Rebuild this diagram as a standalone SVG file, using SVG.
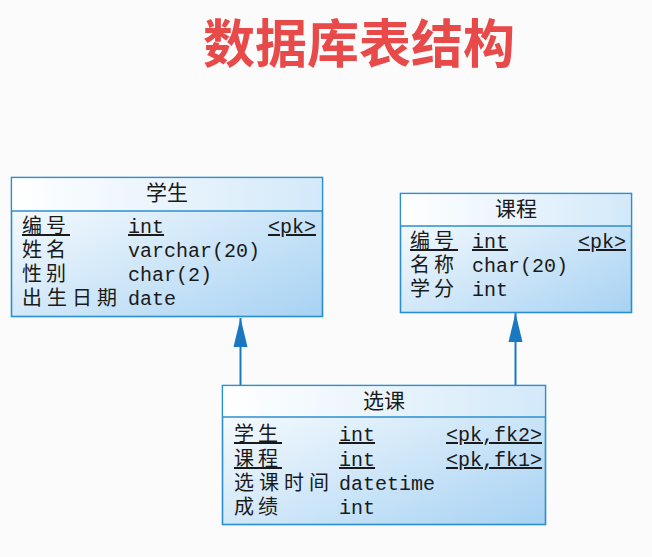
<svg xmlns="http://www.w3.org/2000/svg" width="652" height="557" viewBox="0 0 652 557">
<style>
.box{stroke:#2a8fd0;stroke-width:1.6;fill:url(#body)}
.head{fill:url(#head)}
.div{stroke:#2a8fd0;stroke-width:1.6}
.cn{font-family:"Noto Sans CJK SC","Noto Sans",sans-serif;font-size:20px;fill:#1a1a1a;letter-spacing:4px}
.hd{font-family:"Noto Sans CJK SC","Noto Sans",sans-serif;font-size:21px;fill:#1a1a1a;text-anchor:middle}
.mono{font-family:"Liberation Mono","DejaVu Sans Mono",monospace;font-size:20px;fill:#1a1a1a}
.u{text-decoration:underline}
.title{font-family:"Noto Sans CJK SC",sans-serif;font-size:52px;font-weight:bold;fill:#e84a4a;text-anchor:middle}
.conn{stroke:#1a78c2;stroke-width:2;fill:none}
</style>
<defs>
<linearGradient id="body" x1="0" y1="0" x2="1" y2="1">
<stop offset="0" stop-color="#ffffff"/>
<stop offset="1" stop-color="#a7d2f3"/>
</linearGradient>
<linearGradient id="head" x1="0" y1="0" x2="1" y2="0">
<stop offset="0" stop-color="#ffffff"/>
<stop offset="1" stop-color="#d3e9f9"/>
</linearGradient>
<marker id="arr" markerUnits="userSpaceOnUse" markerWidth="30" markerHeight="16" refX="29" refY="7.5" orient="auto" viewBox="0 0 30 16">
<path d="M0,0.5 L29,7.5 L0,14.5 z" fill="#1a78c2"/>
</marker>
</defs>
<rect width="652" height="557" fill="#fbfbfb"/>
<text class="title" x="359" y="63">数据库表结构</text>

<g id="connectors">
<line class="conn" x1="240.5" y1="385" x2="240.5" y2="318" marker-end="url(#arr)"/>
<line class="conn" x1="515.5" y1="385" x2="515.5" y2="313" marker-end="url(#arr)"/>
</g>

<g id="student">
<rect class="box" x="11.5" y="177.5" width="311" height="139"/>
<rect class="head" x="12.3" y="178.3" width="309.4" height="32.4"/>
<line class="div" x1="11.5" y1="211" x2="322.5" y2="211"/>
<text class="hd" x="167" y="200">学生</text>
<text class="cn u" x="22" y="233">编号</text>
<text class="mono u" x="128" y="233">int</text>
<text class="mono u" x="268" y="233">&lt;pk&gt;</text>
<text class="cn" x="22" y="257">姓名</text>
<text class="mono" x="128" y="257">varchar(20)</text>
<text class="cn" x="22" y="281">性别</text>
<text class="mono" x="128" y="281">char(2)</text>
<text class="cn" x="22" y="305" style="letter-spacing:5px">出生日期</text>
<text class="mono" x="128" y="305">date</text>
</g>

<g id="course">
<rect class="box" x="400.5" y="193.5" width="231" height="119"/>
<rect class="head" x="401.3" y="194.3" width="229.4" height="31.4"/>
<line class="div" x1="400.5" y1="226" x2="631.5" y2="226"/>
<text class="hd" x="516" y="216">课程</text>
<text class="cn u" x="410" y="248">编号</text>
<text class="mono u" x="472" y="248">int</text>
<text class="mono u" x="578" y="248">&lt;pk&gt;</text>
<text class="cn" x="410" y="272">名称</text>
<text class="mono" x="472" y="272">char(20)</text>
<text class="cn" x="410" y="296">学分</text>
<text class="mono" x="472" y="296">int</text>
</g>

<g id="selection">
<rect class="box" x="222.5" y="385.5" width="323" height="139"/>
<rect class="head" x="223.3" y="386.3" width="321.4" height="30.4"/>
<line class="div" x1="222.5" y1="417" x2="545.5" y2="417"/>
<text class="hd" x="384" y="408">选课</text>
<text class="cn u" x="234" y="441">学生</text>
<text class="mono u" x="339" y="441">int</text>
<text class="mono u" x="446" y="441">&lt;pk,fk2&gt;</text>
<text class="cn u" x="234" y="466">课程</text>
<text class="mono u" x="339" y="466">int</text>
<text class="mono u" x="446" y="466">&lt;pk,fk1&gt;</text>
<text class="cn" x="234" y="490" style="letter-spacing:5px">选课时间</text>
<text class="mono" x="339" y="490">datetime</text>
<text class="cn" x="234" y="514">成绩</text>
<text class="mono" x="339" y="514">int</text>
</g>
</svg>
